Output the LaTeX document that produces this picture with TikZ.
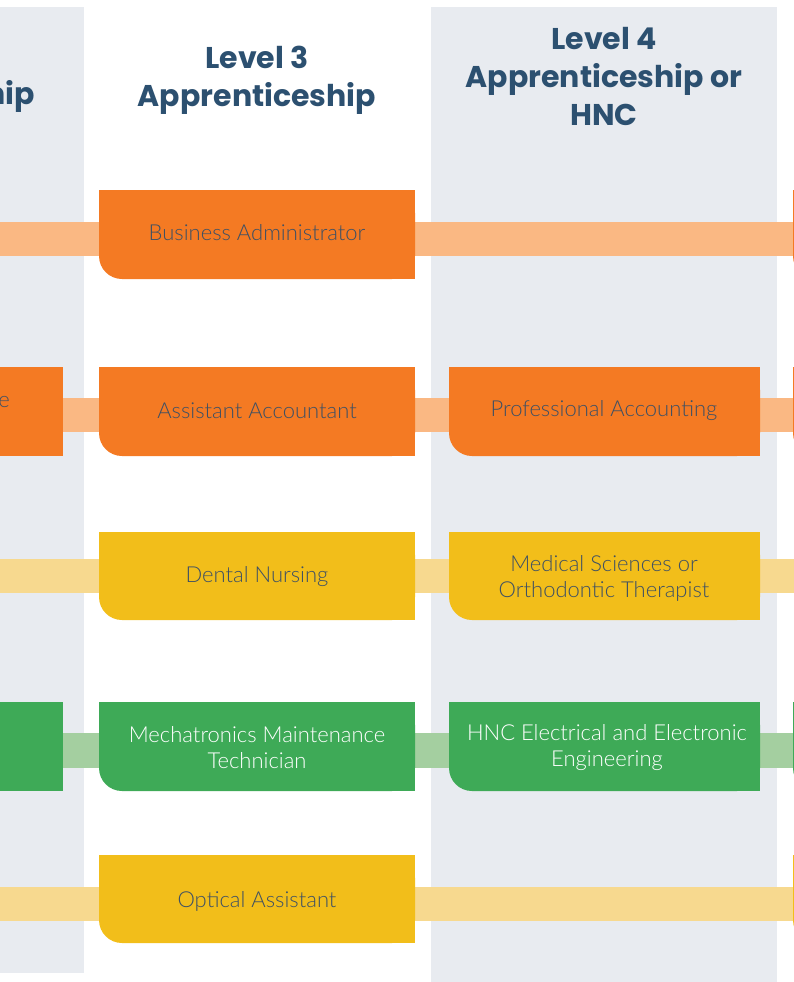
\documentclass[tikz,border=0pt]{standalone}
\usepackage{fontspec}
\setmainfont{Lato}
\newfontfamily\bodyfont{Lato Light}
\newfontfamily\headfont{Poppins}[UprightFont=* Bold]
\definecolor{colgray}{HTML}{E8EBF0}
\definecolor{headblue}{HTML}{2C5070}
\definecolor{bodytxt}{HTML}{3E5064}
\definecolor{orng}{HTML}{F47A23}
\definecolor{orngband}{HTML}{FAB883}
\definecolor{yllw}{HTML}{F2BE1A}
\definecolor{yllwband}{HTML}{F7D98F}
\definecolor{grn}{HTML}{3EAA57}
\definecolor{grnband}{HTML}{A4CFA0}
\tikzset{
  head/.style={font=\headfont\fontsize{30}{38}\selectfont, text=headblue, align=center, inner sep=0pt},
  lbl/.style={font=\bodyfont\fontsize{22}{26}\selectfont, text=bodytxt, align=center, inner sep=0pt},
  wlbl/.style={lbl, text=white},
}
% name, x1, y1, x2, y2, colour
\newcommand\cardbox[6]{%
  \fill[#6, rounded corners=23pt] (#2,#3) rectangle (#4,#5);
  \fill[#6] (#2,#3) rectangle (#4,{#5-23});
  \fill[#6] ({#2+23},#3) rectangle (#4,#5);
  \coordinate (#1) at ({(#2+#4)/2},{(#3+#5)/2});
}
\begin{document}
\begin{tikzpicture}[x=1pt,y=-1pt]
\useasboundingbox (0,0) rectangle (794,982);
\clip (0,0) rectangle (794,982);
% columns
\fill[colgray] (-300,7) rectangle (84,973);
\fill[colgray] (431,7) rectangle (777,982);
% headings
\node[head, anchor=base east] (h2) at (35,104) {Apprenticeship};
\node[head] (h3) at (257,80) {Level 3\\Apprenticeship};
\node[head] (h4) at (604,76) {Level 4\\Apprenticeship or\\HNC};
% bands (connectors)
\fill[orngband] (-10,222) rectangle (800,256);
\fill[orngband] (-10,398) rectangle (800,432);
\fill[yllwband] (-10,559) rectangle (800,593);
\fill[grnband] (-10,733) rectangle (800,768);
\fill[yllwband] (-10,887) rectangle (800,921);
% left column (partial) boxes
\fill[orng] (-300,367) rectangle (63,456);
\node[lbl, anchor=base east] (l2) at (10,407) {e};
\fill[grn] (-300,702) rectangle (63,791);
% level 3 boxes
\cardbox{b1}{99}{190}{415}{279}{orng}
\cardbox{b2}{99}{367}{415}{456}{orng}
\cardbox{b3}{99}{532}{415}{620}{yllw}
\cardbox{b4}{99}{702}{415}{791}{grn}
\cardbox{b5}{99}{855}{415}{943}{yllw}
% level 4 boxes
\cardbox{c2}{449}{367}{760}{456}{orng}
\cardbox{c3}{449}{532}{760}{620}{yllw}
\cardbox{c4}{449}{702}{760}{791}{grn}
% next column (only edge visible)
\cardbox{d1}{793}{190}{1100}{279}{orng}
\cardbox{d2}{793}{367}{1100}{456}{orng}
\cardbox{d4}{793}{702}{1100}{791}{grn}
\cardbox{d5}{793}{855}{1100}{943}{yllw}
% labels
\node[lbl] (t1) at (257,233) {Business Administrator};
\node[lbl] (t2) at (257,411) {Assistant Accountant};
\node[lbl] (t3) at (257,577) {Dental Nursing};
\node[wlbl] (t4) at (257,748) {Mechatronics Maintenance\\Technician};
\node[lbl] (t5) at (257,901) {Optical Assistant};
\node[lbl] (u2) at (604,411) {Professional Accounting};
\node[lbl] (u3) at (604,578) {Medical Sciences or\\Orthodontic Therapist};
\node[wlbl] (u4) at (607,748) {HNC Electrical and Electronic\\Engineering};
\end{tikzpicture}
\end{document}
